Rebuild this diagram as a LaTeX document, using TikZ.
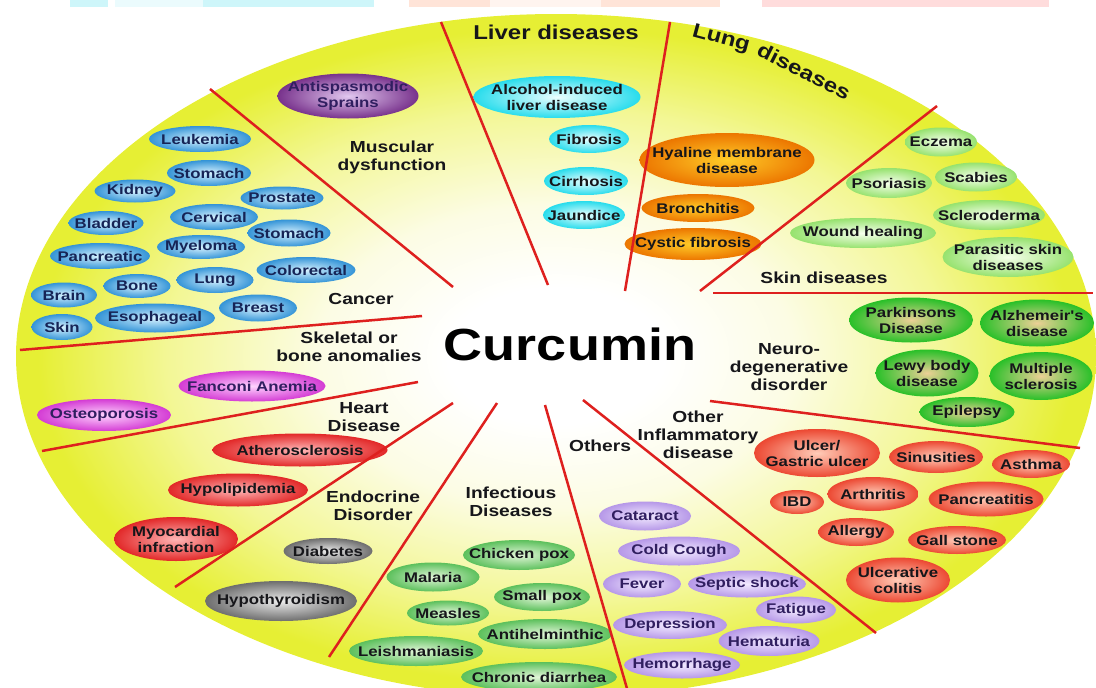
\documentclass[tikz,border=0pt]{standalone}
\usepackage{fontspec}
\newfontfamily\lblfont[FakeStretch=1.2]{Liberation Sans}
\usetikzlibrary{shapes.geometric}

\definecolor{bgcream}{RGB}{252,252,228}
\definecolor{bglight}{RGB}{243,247,150}
\definecolor{bgyellow}{RGB}{230,239,52}
\definecolor{divred}{RGB}{222,32,30}
\definecolor{inktxt}{RGB}{22,22,26}
\definecolor{navytxt}{RGB}{22,36,86}
\definecolor{violtxt}{RGB}{48,30,96}
\definecolor{blueinn}{RGB}{214,242,255}
\definecolor{blueout}{RGB}{52,148,215}
\definecolor{cyaninn}{RGB}{236,255,255}
\definecolor{cyanout}{RGB}{40,220,236}
\definecolor{orinn}{RGB}{255,204,40}
\definecolor{orout}{RGB}{236,118,0}
\definecolor{skininn}{RGB}{246,255,236}
\definecolor{skinout}{RGB}{150,226,110}
\definecolor{neuroinn}{RGB}{236,208,150}
\definecolor{neuroout}{RGB}{40,192,40}
\definecolor{inflinn}{RGB}{255,204,184}
\definecolor{inflout}{RGB}{236,72,50}
\definecolor{lavinn}{RGB}{242,234,255}
\definecolor{lavout}{RGB}{182,152,232}
\definecolor{infinn}{RGB}{226,246,216}
\definecolor{infout}{RGB}{92,192,92}
\definecolor{grayinn}{RGB}{236,236,236}
\definecolor{grayout}{RGB}{110,110,110}
\definecolor{heartinn}{RGB}{255,182,182}
\definecolor{heartout}{RGB}{226,40,40}
\definecolor{maginn}{RGB}{255,212,255}
\definecolor{magout}{RGB}{212,60,212}
\definecolor{purpinn}{RGB}{226,200,240}
\definecolor{purpout}{RGB}{120,50,140}
\definecolor{stripcyan}{RGB}{206,246,250}
\definecolor{stripsalmon}{RGB}{255,228,216}
\definecolor{strippink}{RGB}{255,220,220}

\pgfdeclareradialshading{curcumbg}{\pgfpoint{0bp}{0bp}}{color(0bp)=(white); color(5bp)=(white); color(11bp)=(bgcream); color(18bp)=(bglight); color(24bp)=(bgyellow); color(50bp)=(bgyellow)}

\tikzset{
  divider/.style={draw=divred, line width=2.5pt},
  cat/.style={font=\lblfont\bfseries\fontsize{16}{18}\selectfont, align=center, inner sep=0pt, text=inktxt},
  bigcat/.style={cat, font=\lblfont\bfseries\fontsize{20}{22}\selectfont},
  ill/.style={ellipse, inner xsep=-40pt, inner ysep=-20pt, minimum height=26pt, align=center,
    font=\lblfont\bfseries\fontsize{14}{16}\selectfont, text=inktxt},
  cancer/.style={ill, inner color=blueinn, outer color=blueout, text=navytxt},
  liver/.style={ill, inner color=cyaninn, outer color=cyanout},
  lungd/.style={ill, inner color=orinn, outer color=orout},
  skind/.style={ill, inner color=skininn, outer color=skinout},
  neuro/.style={ill, inner color=neuroinn, outer color=neuroout},
  infl/.style={ill, inner color=inflinn, outer color=inflout},
  other/.style={ill, inner color=lavinn, outer color=lavout, text=violtxt},
  infect/.style={ill, inner color=infinn, outer color=infout},
  endo/.style={ill, inner color=grayinn, outer color=grayout},
  heart/.style={ill, inner color=heartinn, outer color=heartout},
  skel/.style={ill, inner color=maginn, outer color=magout, text=violtxt},
  musc/.style={ill, inner color=purpinn, outer color=purpout, text=violtxt}
}

\begin{document}
\begin{tikzpicture}[x=1pt, y=-1pt]
\useasboundingbox (0,0) rectangle (1096,688);
\fill[stripcyan] (70,0) rectangle (108,7);
\fill[stripcyan!40] (115,0) rectangle (203,7);
\fill[stripcyan] (203,0) rectangle (374,7);
\fill[stripsalmon] (409,0) rectangle (490,7);
\fill[stripsalmon!40] (490,0) rectangle (601,7);
\fill[stripsalmon] (601,0) rectangle (720,7);
\fill[strippink] (762,0) rectangle (1049,7);

\shade[shading=curcumbg] (556,356) ellipse [x radius=540, y radius=342];

\node[bigcat] (liverlbl) at (556,32) {Liver diseases};
\node[bigcat, rotate=-15] (lunglbl) at (721,39) {Lung};
\node[bigcat, rotate=-27] (lungdis) at (804,71) {diseases};
\node[cat] (musclbl) at (392,157) {Muscular\\dysfunction};
\node[cat] (cancerlbl) at (361,299) {Cancer};
\node[cat] (skellbl) at (349,347) {Skeletal or\\bone anomalies};
\node[cat] (heartlbl) at (364,417) {Heart\\Disease};
\node[cat] (endolbl) at (373,506) {Endocrine\\Disorder};
\node[cat] (infectlbl) at (511,502) {Infectious\\Diseases};
\node[cat] (otherlbl) at (600,446) {Others};
\node[cat] (infllbl) at (698,435) {Other\\Inflammatory\\disease};
\node[cat] (neurolbl) at (789,367) {Neuro-\\degenerative\\disorder};
\node[cat] (skinlbl) at (824,278) {Skin diseases};
\node[font=\lblfont\bfseries\fontsize{45}{50}\selectfont, text=black] (curcumin) at (570,344) {Curcumin};

\node[musc, minimum width=141, minimum height=45] (antispas) at (348,96) {Antispasmodic\\Sprains};

\node[cancer, minimum width=102] (leukemia) at (200,139) {Leukemia};
\node[cancer, minimum width=84] (stomacha) at (209,173) {Stomach};
\node[cancer, minimum width=81, minimum height=23] (kidney) at (135,191) {Kidney};
\node[cancer, minimum width=83, minimum height=23] (prostate) at (282,198) {Prostate};
\node[cancer, minimum width=88] (cervical) at (214,217) {Cervical};
\node[cancer, minimum width=75, minimum height=24] (bladder) at (106,223) {Bladder};
\node[cancer, minimum width=83, minimum height=27] (stomachb) at (289,233) {Stomach};
\node[cancer, minimum width=88, minimum height=24] (myeloma) at (201,247) {Myeloma};
\node[cancer, minimum width=100] (pancreatic) at (100,256) {Pancreatic};
\node[cancer, minimum width=99] (colorectal) at (306,270) {Colorectal};
\node[cancer, minimum width=77] (lungc) at (215,280) {Lung};
\node[cancer, minimum width=67, minimum height=24] (bone) at (137,286) {Bone};
\node[cancer, minimum width=66, minimum height=25] (brain) at (64,295) {Brain};
\node[cancer, minimum width=78, minimum height=27] (breast) at (258,308) {Breast};
\node[cancer, minimum width=120, minimum height=29] (esophageal) at (155,318) {Esophageal};
\node[cancer, minimum width=61] (skinc) at (62,327) {Skin};

\node[liver, minimum width=167, minimum height=42] (alcohol) at (557,97) {Alcohol-induced\\liver disease};
\node[liver, minimum width=80, minimum height=28] (fibrosis) at (589,139) {Fibrosis};
\node[liver, minimum width=84, minimum height=28] (cirrhosis) at (586,181) {Cirrhosis};
\node[liver, minimum width=82, minimum height=28] (jaundice) at (584,215) {Jaundice};

\node[lungd, minimum width=175, minimum height=54] (hyaline) at (727,160) {Hyaline membrane\\disease};
\node[lungd, minimum width=113, minimum height=28] (bronchitis) at (698,208) {Bronchitis};
\node[lungd, minimum width=137, minimum height=32] (cystic) at (693,244) {Cystic fibrosis};

\node[skind, minimum width=72, minimum height=29] (eczema) at (941,142) {Eczema};
\node[skind, minimum width=86, minimum height=30] (psoriasis) at (889,183) {Psoriasis};
\node[skind, minimum width=82, minimum height=29] (scabies) at (976,177) {Scabies};
\node[skind, minimum width=112, minimum height=30] (scleroderma) at (989,215) {Scleroderma};
\node[skind, minimum width=146, minimum height=30] (wound) at (863,233) {Wound healing};
\node[skind, minimum width=131, minimum height=40] (parasitic) at (1008,257) {Parasitic skin\\diseases};

\node[neuro, minimum width=124, minimum height=45] (parkinsons) at (911,320) {Parkinsons\\Disease};
\node[neuro, minimum width=114, minimum height=47] (alzheimer) at (1037,323) {Alzhemeir's\\disease};
\node[neuro, minimum width=103, minimum height=47] (lewy) at (927,373) {Lewy body\\disease};
\node[neuro, minimum width=103, minimum height=48] (multiple) at (1041,376) {Multiple\\sclerosis};
\node[neuro, minimum width=95, minimum height=30] (epilepsy) at (967,412) {Epilepsy};

\node[infl, minimum width=126, minimum height=48] (ulcer) at (817,453) {Ulcer/\\Gastric ulcer};
\node[infl, minimum width=94, minimum height=32] (sinusities) at (936,457) {Sinusities};
\node[infl, minimum width=78, minimum height=28] (asthma) at (1031,464) {Asthma};
\node[infl, minimum width=54, minimum height=24] (ibd) at (797,502) {IBD};
\node[infl, minimum width=91, minimum height=34] (arthritis) at (873,494) {Arthritis};
\node[infl, minimum width=115, minimum height=35] (pancreatitis) at (986,499) {Pancreatitis};
\node[infl, minimum width=76, minimum height=28] (allergy) at (856,532) {Allergy};
\node[infl, minimum width=98, minimum height=28] (gallstone) at (957,540) {Gall stone};
\node[infl, minimum width=104, minimum height=45] (ulcerative) at (898,580) {Ulcerative\\colitis};

\node[other, minimum width=92, minimum height=29] (cataract) at (645,516) {Cataract};
\node[other, minimum width=122, minimum height=29] (coldcough) at (679,551) {Cold Cough};
\node[other, minimum width=78, minimum height=27] (fever) at (642,584) {Fever};
\node[other, minimum width=118, minimum height=27] (septic) at (747,584) {Septic shock};
\node[other, minimum width=80, minimum height=27] (fatigue) at (796,610) {Fatigue};
\node[other, minimum width=114, minimum height=28] (depression) at (670,625) {Depression};
\node[other, minimum width=101, minimum height=30] (hematuria) at (769,641) {Hematuria};
\node[other, minimum width=116, minimum height=27] (hemorrhage) at (682,665) {Hemorrhage};

\node[infect, minimum width=112, minimum height=30] (chickenpox) at (519,555) {Chicken pox};
\node[infect, minimum width=93, minimum height=29] (malaria) at (433,577) {Malaria};
\node[infect, minimum width=96, minimum height=28] (smallpox) at (542,597) {Small pox};
\node[infect, minimum width=82, minimum height=25] (measles) at (448,613) {Measles};
\node[infect, minimum width=134, minimum height=30] (antihelm) at (545,634) {Antihelminthic};
\node[infect, minimum width=134, minimum height=30] (leish) at (416,651) {Leishmaniasis};
\node[infect, minimum width=156, minimum height=30] (diarrhea) at (539,677) {Chronic diarrhea};

\node[endo, minimum width=89] (diabetes) at (328,551) {Diabetes};
\node[endo, minimum width=152, minimum height=40] (hypothyroid) at (281,601) {Hypothyroidism};

\node[heart, minimum width=175, minimum height=33] (athero) at (300,450) {Atherosclerosis};
\node[heart, minimum width=140, minimum height=33] (hypolip) at (238,490) {Hypolipidemia};
\node[heart, minimum width=124, minimum height=44] (myocard) at (176,539) {Myocardial\\infraction};

\node[skel, minimum width=147, minimum height=31] (fanconi) at (252,386) {Fanconi Anemia};
\node[skel, minimum width=134, minimum height=32] (osteo) at (104,415) {Osteoporosis};

\draw[divider] (441,22) -- (548,285);
\draw[divider] (670,22) -- (625,291);
\draw[divider] (937,106) -- (700,291);
\draw[divider] (713,293) -- (1093,293);
\draw[divider] (710,401) -- (1080,448);
\draw[divider] (583,400) -- (876,633);
\draw[divider] (545,405) -- (628,692);
\draw[divider] (497,403) -- (329,657);
\draw[divider] (453,403) -- (175,587);
\draw[divider] (418,382) -- (42,451);
\draw[divider] (422,316) -- (20,350);
\draw[divider] (453,287) -- (210,89);
\end{tikzpicture}
\end{document}
